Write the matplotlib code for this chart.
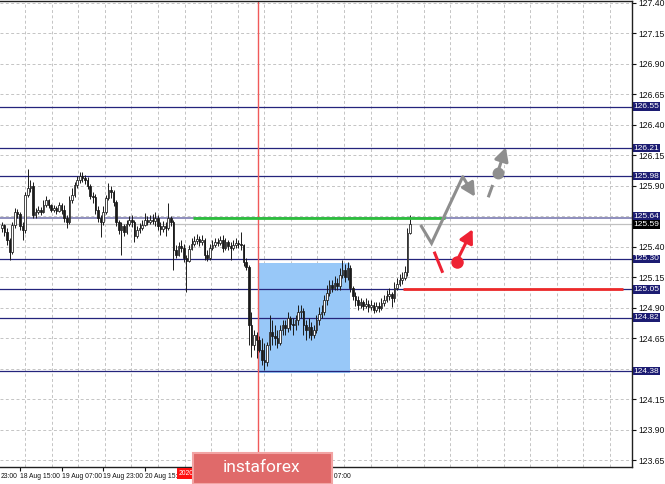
import matplotlib
matplotlib.use("Agg")
import matplotlib.pyplot as plt
from matplotlib.patches import Rectangle, FancyArrowPatch
import matplotlib.transforms as mtransforms

# ---------------- data ----------------
first_open = 125.554
close = [125.579, 125.521, 125.456, 125.357, 125.579, 125.686, 125.669, 125.571, 125.538, 125.825,
         125.882, 125.899, 125.661, 125.686, 125.702, 125.686, 125.743, 125.784, 125.743, 125.702,
         125.718, 125.694, 125.743, 125.702, 125.636, 125.604, 125.784, 125.825, 125.907, 125.948,
         125.981, 125.964, 125.948, 125.899, 125.817, 125.809, 125.702, 125.636, 125.604, 125.686,
         125.800, 125.866, 125.850, 125.768, 125.604, 125.538, 125.571, 125.521, 125.587, 125.620,
         125.604, 125.489, 125.538, 125.554, 125.579, 125.620, 125.604, 125.620, 125.612, 125.636,
         125.571, 125.546, 125.571, 125.554, 125.636, 125.604, 125.374, 125.333, 125.407, 125.390,
         125.308, 125.284, 125.382, 125.423, 125.448, 125.464, 125.439, 125.456, 125.333, 125.308,
         125.390, 125.415, 125.439, 125.431, 125.456, 125.390, 125.439, 125.407, 125.390, 125.415,
         125.431, 125.423, 125.415, 125.275, 125.234, 124.758, 124.594, 124.676, 124.636, 124.553,
         124.471, 124.455, 124.594, 124.701, 124.668, 124.652, 124.611, 124.718, 124.758, 124.734,
         124.816, 124.767, 124.758, 124.800, 124.865, 124.873, 124.758, 124.718, 124.742, 124.676,
         124.718, 124.800, 124.849, 124.865, 124.964, 125.021, 125.087, 125.062, 125.103, 125.078,
         125.169, 125.210, 125.152, 125.226, 125.062, 124.997, 124.964, 124.923, 124.947, 124.914,
         124.931, 124.906, 124.923, 124.882, 124.914, 124.898, 124.939, 124.964, 124.997, 125.013,
         124.980, 125.062, 125.095, 125.128, 125.144, 125.193, 125.513, 125.590]
high = [125.604, 125.587, 125.554, 125.472, 125.604, 125.718, 125.710, 125.686, 125.604, 125.850,
        126.038, 125.948, 125.932, 125.718, 125.735, 125.727, 125.784, 125.817, 125.792, 125.751,
        125.743, 125.735, 125.768, 125.759, 125.743, 125.661, 125.817, 125.882, 125.932, 125.981,
        126.014, 126.014, 125.989, 125.972, 125.915, 125.850, 125.833, 125.735, 125.661, 125.735,
        125.825, 125.923, 125.899, 125.866, 125.784, 125.620, 125.604, 125.587, 125.620, 125.653,
        125.661, 125.620, 125.571, 125.595, 125.620, 125.677, 125.653, 125.661, 125.669, 125.686,
        125.661, 125.604, 125.612, 125.604, 125.759, 125.653, 125.620, 125.415, 125.439, 125.456,
        125.423, 125.333, 125.415, 125.472, 125.489, 125.505, 125.489, 125.497, 125.472, 125.374,
        125.423, 125.456, 125.472, 125.472, 125.489, 125.497, 125.472, 125.456, 125.439, 125.456,
        125.472, 125.456, 125.521, 125.423, 125.308, 125.251, 124.865, 124.718, 124.701, 124.668,
        124.652, 124.611, 124.619, 124.841, 124.800, 124.758, 124.718, 124.758, 124.800, 124.800,
        124.865, 124.832, 124.816, 124.841, 124.923, 124.923, 124.898, 124.800, 124.816, 124.783,
        124.758, 124.841, 124.906, 124.923, 125.005, 125.087, 125.128, 125.128, 125.160, 125.144,
        125.226, 125.292, 125.259, 125.275, 125.251, 125.078, 125.029, 124.997, 124.980, 124.964,
        124.980, 124.964, 124.964, 124.947, 124.947, 124.947, 124.980, 125.005, 125.046, 125.062,
        125.029, 125.111, 125.144, 125.177, 125.193, 125.243, 125.554, 125.661]
low = [125.521, 125.489, 125.415, 125.292, 125.341, 125.554, 125.636, 125.538, 125.456, 125.513,
       125.809, 125.850, 125.636, 125.636, 125.669, 125.661, 125.677, 125.727, 125.718, 125.686,
       125.686, 125.669, 125.686, 125.669, 125.604, 125.554, 125.587, 125.759, 125.809, 125.882,
       125.923, 125.932, 125.915, 125.874, 125.792, 125.759, 125.669, 125.604, 125.480, 125.579,
       125.669, 125.784, 125.800, 125.735, 125.571, 125.505, 125.333, 125.489, 125.505, 125.571,
       125.563, 125.439, 125.472, 125.513, 125.538, 125.571, 125.579, 125.587, 125.587, 125.571,
       125.538, 125.497, 125.521, 125.489, 125.538, 125.571, 125.210, 125.308, 125.325, 125.357,
       125.275, 125.029, 125.275, 125.374, 125.407, 125.423, 125.407, 125.415, 125.292, 125.284,
       125.292, 125.374, 125.398, 125.407, 125.415, 125.357, 125.374, 125.374, 125.292, 125.374,
       125.390, 125.390, 125.374, 125.243, 125.210, 124.594, 124.496, 124.553, 124.488, 124.537,
       124.430, 124.389, 124.422, 124.553, 124.594, 124.594, 124.570, 124.594, 124.676, 124.676,
       124.701, 124.718, 124.676, 124.718, 124.758, 124.816, 124.676, 124.636, 124.652, 124.636,
       124.652, 124.693, 124.758, 124.816, 124.841, 124.923, 124.997, 125.029, 125.046, 125.046,
       125.046, 125.144, 125.111, 125.128, 125.029, 124.964, 124.914, 124.882, 124.898, 124.882,
       124.898, 124.865, 124.882, 124.857, 124.865, 124.865, 124.882, 124.914, 124.947, 124.964,
       124.906, 124.947, 125.046, 125.078, 125.095, 125.128, 125.160, 125.505]

levels = [126.55, 126.21, 125.98, 125.64, 125.30, 125.05, 124.82, 124.38]
current_price = 125.59
grid_prices = [123.65, 123.90, 124.15, 124.40, 124.65, 124.90, 125.15, 125.40,
               125.65, 125.90, 126.15, 126.40, 126.65, 126.90, 127.15, 127.40]
# 125.65 and 124.40 are hidden behind the 125.64 / 124.38 boxes in the reference
ytick_values = [123.65, 123.90, 124.15, 124.65, 124.90, 125.15, 125.40,
                125.90, 126.15, 126.40, 126.65, 126.90, 127.15, 127.40]
time_ticks = [7, 23, 39, 55, 119]
time_labels = ["18 Aug 15:00", "19 Aug 07:00", "19 Aug 23:00", "20 Aug 15:00", "25 Aug 07:00"]
cut_label = "23:00"          # tail of the "17 Aug 23:00" label at the left edge
vline_bar = 98.5
vline_label = "2020.08.24"

zone_bars = (98.5, 133.9)
zone_prices = (124.365, 125.27)
green_level = 125.64
green_bars = (73.5, 170.5)
red_level = 125.05
red_bars = (154.3, 238.9)

# forecast scenario (bar, price)
gray_path = [(161.1, 125.579), (165.3, 125.429), (177.3, 125.975)]
gray_arrow = [(177.3, 125.975), (182.0, 125.811)]
gray_dash = [(187.1, 125.806), (188.8, 125.907)]
gray_dot = (190.7, 126.008)
gray_up = (193.9, 126.216)
red_dash = [(166.3, 125.360), (169.6, 125.187)]
red_dot = (174.9, 125.278)
red_up = (181.1, 125.544)

# ---------------- figure ----------------
W, H = 665, 484
fig = plt.figure(figsize=(W / 100, H / 100), dpi=100)
fig.patch.set_facecolor("white")
ax = fig.add_axes([0, 17 / H, 632 / W, 466 / H])
ax.set_facecolor("white")

ax.spines["left"].set_visible(False)
for s in ["top", "right", "bottom"]:
    ax.spines[s].set_color("#202020")
    ax.spines[s].set_linewidth(1.0)

# grid
grid_col = "#c4c4c4"
for k in range(24):
    ax.axvline(8.9 + 10.23 * k, color=grid_col, lw=0.7, ls=(0, (3, 2.5)), zorder=0.5)
for v in grid_prices:
    ax.axhline(v, color=grid_col, lw=0.7, ls=(0, (3, 2.5)), zorder=0.5)

# zone rectangle
ax.add_patch(Rectangle((zone_bars[0], zone_prices[0]), zone_bars[1] - zone_bars[0],
                       zone_prices[1] - zone_prices[0], facecolor="#98c8f8",
                       edgecolor="none", zorder=1))

# levels
navy = "#24247c"
for lv in levels:
    if abs(lv - 125.64) < 1e-6:
        ax.axhline(lv, color="#8686b8", lw=1.3, zorder=1.5)
    else:
        ax.axhline(lv, color=navy, lw=0.9, zorder=1.5)
ax.axhline(current_price, color="#c0c0c0", lw=0.9, zorder=1.4)

# red vertical line
ax.axvline(vline_bar, color="#f05a5a", lw=1.0, zorder=1.6)

# candles
opens = [first_open] + close[:-1]
for i, (o, h, l, c) in enumerate(zip(opens, high, low, close)):
    hi = max(h, o, c)
    lo = min(l, o, c)
    ax.vlines(i, lo, hi, color="#1a1a1a", lw=0.7, zorder=2)
    bottom = min(o, c)
    height = max(abs(c - o), 0.004)
    face = "white" if c >= o else "#1a1a1a"
    ax.add_patch(Rectangle((i - 0.32, bottom), 0.64, height, facecolor=face,
                           edgecolor="#1a1a1a", lw=0.55, zorder=2.1))

# green and red horizontal segments
ax.plot(green_bars, [green_level, green_level], color="#2cbf3c", lw=2.0, zorder=2.5,
        solid_capstyle="butt")
ax.plot(red_bars, [red_level, red_level], color="#ee2a2a", lw=2.0, zorder=2.5,
        solid_capstyle="butt")

# forecast drawings
gray = "#8e8e8e"
red = "#ee2233"
head = "-|>,head_length=8,head_width=4.2"
gx, gy = zip(*gray_path)
ax.plot(gx, gy, color=gray, lw=2.2, zorder=3, solid_capstyle="butt", solid_joinstyle="miter")
ax.add_patch(FancyArrowPatch(gray_arrow[0], gray_arrow[1], arrowstyle=head,
                             color=gray, lw=2.2, zorder=3, shrinkA=0, shrinkB=0))
dx, dy = zip(*gray_dash)
ax.plot(dx, dy, color=gray, lw=2.2, zorder=3, solid_capstyle="butt")
ax.plot([gray_dot[0]], [gray_dot[1]], "o", color=gray, ms=7.5, zorder=3)
ax.add_patch(FancyArrowPatch(gray_dot, gray_up, arrowstyle=head,
                             color=gray, lw=2.2, zorder=3, shrinkA=0, shrinkB=0))
rx, ry = zip(*red_dash)
ax.plot(rx, ry, color=red, lw=2.2, zorder=3, solid_capstyle="butt")
ax.plot([red_dot[0]], [red_dot[1]], "o", color=red, ms=8, zorder=3)
ax.add_patch(FancyArrowPatch(red_dot, red_up, arrowstyle=head,
                             color=red, lw=2.2, zorder=3, shrinkA=0, shrinkB=0))

# y axis on the right
ax.yaxis.tick_right()
ax.set_yticks(ytick_values)
ax.set_yticklabels([f"{v:.2f}" for v in ytick_values])
ax.tick_params(axis="y", which="both", direction="out", length=3, width=0.8,
               pad=1.5, labelsize=6.2, colors="#111111")
for t in ax.get_yticklabels():
    t.set_fontfamily(["Liberation Sans", "DejaVu Sans"])

# x axis
ax.set_xticks(time_ticks)
ax.set_xticklabels(time_labels)
ax.tick_params(axis="x", direction="out", length=3, width=0.8, pad=1.5,
               labelsize=4.9, colors="#111111")
for t in ax.get_xticklabels():
    t.set_ha("left")
    t.set_fontfamily(["Liberation Sans", "DejaVu Sans"])

# limits (after ticks so they are not widened)
ax.set_xlim(-0.69, 242.4)
ax.set_ylim(123.594, 127.416)

# tail of the label of the tick just left of the visible area
ax.text(0.5 / W, -5.6 / 466, cut_label, transform=ax.transAxes, ha="left", va="top",
        fontsize=4.9, color="#111111", family=["Liberation Sans", "DejaVu Sans"],
        clip_on=False)

# price boxes on the right
trans = mtransforms.blended_transform_factory(ax.transAxes, ax.transData)
for lv in levels:
    yoff = 0.008 if abs(lv - 125.64) < 1e-6 else 0.0
    ax.text(1.0025, lv + yoff, f"{lv:.2f}", transform=trans, ha="left", va="center",
            fontsize=6.0, color="white", family=["Liberation Sans", "DejaVu Sans"],
            bbox=dict(boxstyle="square,pad=0.08", facecolor="#1c1c72", edgecolor="none"),
            zorder=10, clip_on=False)
ax.text(1.0025, current_price - 0.008, f"{current_price:.2f}", transform=trans, ha="left",
        va="center", fontsize=6.0, color="white", family=["Liberation Sans", "DejaVu Sans"],
        bbox=dict(boxstyle="square,pad=0.08", facecolor="#000000", edgecolor="none"),
        zorder=10, clip_on=False)

# red date label at the bottom (mostly hidden under the badge)
fig.text(179 / W, 1 - 473.5 / H, vline_label, ha="left", va="center", fontsize=4.9,
         color="white", family=["Liberation Sans", "DejaVu Sans"],
         bbox=dict(boxstyle="square,pad=0.25", facecolor="#ff1010", edgecolor="none"),
         zorder=1)

# instaforex badge
fig.patches.append(Rectangle((192.5 / W, 0), 139.5 / W, 31 / H, transform=fig.transFigure,
                             facecolor="#e06a6a", edgecolor="#f2a4a4", lw=1.5, zorder=2))
fig.text(262 / W, 1 - 468 / H, "instaforex", ha="center", va="center", fontsize=12.5,
         color="white", family=["Roboto", "DejaVu Sans"], zorder=3)

fig.savefig("out.png", dpi=100, facecolor="white")
